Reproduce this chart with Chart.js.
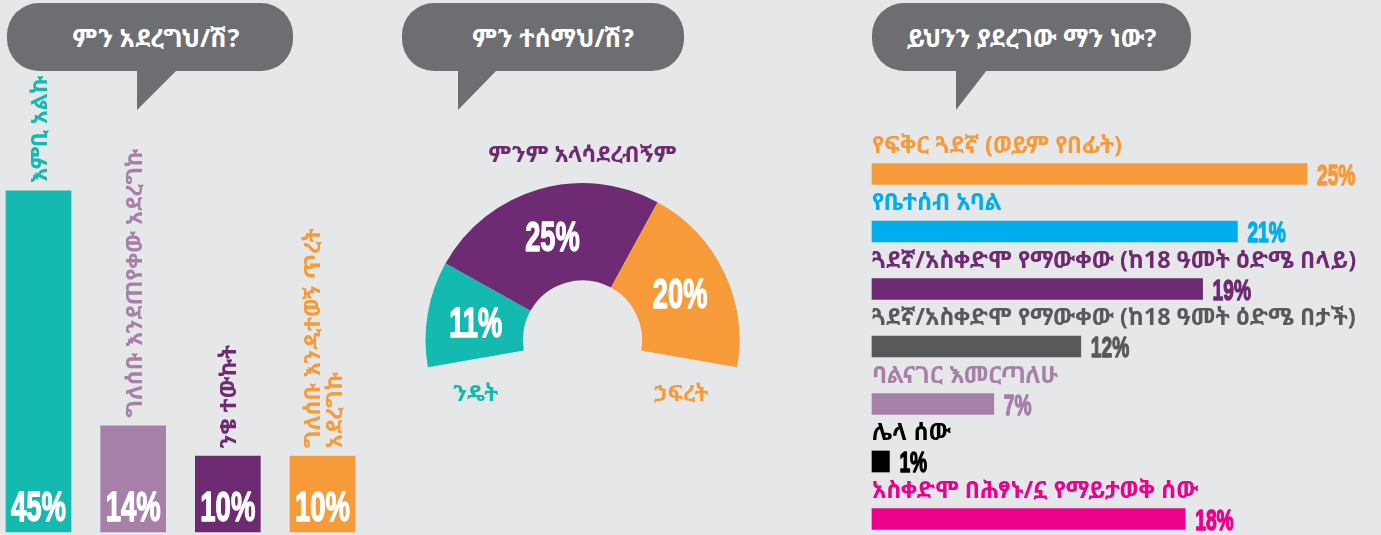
<!DOCTYPE html>
<html lang="am">
<head>
<meta charset="utf-8">
<title>ምን አደረግህ/ሽ?</title>
<script src="https://cdn.jsdelivr.net/npm/chart.js@4.4.1/dist/chart.umd.min.js"></script>
<style>
  html, body { margin: 0; padding: 0; background: #e6e7e8; width: 1381px; height: 535px; overflow: hidden; }
  .bubble {
    position: absolute; height: 68px; top: 3px; box-sizing: border-box;
    background: #6d6e71; border-radius: 32px; color: #fff;
    font: bold 25px "Noto Sans Ethiopic", "Abyssinica SIL", "Noto Sans", sans-serif;
    display: flex; align-items: center; justify-content: center;
  }
  .tail { position: absolute; top: 70px; height: 40px; background: #6d6e71; clip-path: polygon(0 0, 100% 0, 0 100%); }
  .box { position: absolute; }
</style>
</head>
<body>

<div class="bubble" style="left:7px; width:286px; padding-left:12px;">ምን አደረግህ/ሽ?</div>
<div class="tail" style="left:137px; width:40px;"></div>

<div class="bubble" style="left:402px; width:282px; padding-left:20px;">ምን ተሰማህ/ሽ?</div>
<div class="tail" style="left:458px; width:39px;"></div>

<div class="bubble" style="left:872px; width:319px;">ይህንን ያደረገው ማን ነው?</div>
<div class="tail" style="left:956px; width:31px;"></div>

<div class="box" style="left:0; top:0;"><canvas id="actionChart" width="380" height="535"></canvas></div>
<div class="box" style="left:390px; top:120px;"><canvas id="feelingChart" width="390" height="320"></canvas></div>
<div class="box" style="left:860px; top:130px;"><canvas id="whoChart" width="521" height="405"></canvas></div>

<script>
/* -------------------------------
   Data
--------------------------------*/
// What did you do?
const actionLabels = [["እምቢ አልኩ"], ["ግለሰቡ እንደጠየቀው አደረግኩ"], ["ንቄ ተውኩት"], ["ግለሰቡ እንዲተወኝ ጥረት", "አደረግኩ"]];
const actionValues = [45, 14, 10, 10];
const actionColors = ["#14b9b0", "#a680a8", "#6e2a72", "#f79b3a"];

// How did you feel?
const feelingLabels = ["ንዴት", "ምንም አላሳደረብኝም", "ኃፍረት"];
const feelingValues = [11, 25, 20];
const feelingColors = ["#14b9b0", "#6e2a72", "#f79b3a"];

// Who did it?
const whoLabels = [
  "የፍቅር ጓደኛ (ወይም የበፊት)",
  "የቤተሰብ አባል",
  "ጓደኛ/አስቀድሞ የማውቀው (ከ18 ዓመት ዕድሜ በላይ)",
  "ጓደኛ/አስቀድሞ የማውቀው (ከ18 ዓመት ዕድሜ በታች)",
  "ባልናገር እመርጣለሁ",
  "ሌላ ሰው",
  "አስቀድሞ በሕፃኑ/ኗ የማይታወቅ ሰው"
];
const whoValues = [25, 21, 19, 12, 7, 1, 18];
const whoColors = ["#f79b3a", "#00aeef", "#6e2a72", "#58595b", "#a680a8", "#000000", "#ec008c"];

const ETHIOPIC = '"Noto Sans Ethiopic", "Abyssinica SIL", "Noto Sans", sans-serif';
const NARROW = '"Liberation Sans", Arial, sans-serif';

/* -------------------------------
   Helpers
--------------------------------*/
// percentages are set in a tall heavy condensed face:
// squeeze the glyphs horizontally and stroke them a little to keep the weight
function condensedText(ctx, text, x, y, size, color, align, squeeze) {
  ctx.save();
  ctx.font = `bold ${size}px ${NARROW}`;
  ctx.fillStyle = color;
  ctx.strokeStyle = color;
  ctx.lineWidth = 1.4;
  ctx.lineJoin = "round";
  ctx.textAlign = align;
  ctx.textBaseline = "alphabetic";
  ctx.translate(x, y + size * 0.36);
  ctx.scale(squeeze, 1);
  ctx.fillText(text, 0, 0);
  ctx.strokeText(text, 0, 0);
  ctx.restore();
}

function baseOptions(padding) {
  return {
    responsive: false,
    animation: false,
    layout: { padding },
    plugins: { legend: { display: false }, tooltip: { enabled: false } }
  };
}

/* -------------------------------
   What did you do? (vertical bars)
--------------------------------*/
const actionLabelPlugin = {
  id: "actionLabels",
  afterDatasetsDraw(chart) {
    const ctx = chart.ctx;
    const bottom = chart.scales.y.getPixelForValue(0);
    chart.getDatasetMeta(0).data.forEach((bar, i) => {
      const lines = actionLabels[i];
      ctx.save();
      ctx.font = `bold 23px ${ETHIOPIC}`;
      ctx.fillStyle = actionColors[i];
      ctx.textAlign = "left";
      ctx.textBaseline = "middle";
      lines.forEach((line, j) => {
        const x = bar.x + 2 + (j - (lines.length - 1) / 2) * 22;
        ctx.save();
        ctx.translate(x, bar.y - 8);
        ctx.rotate(-Math.PI / 2);
        ctx.fillText(line, 0, 0);
        ctx.restore();
      });
      ctx.restore();
      condensedText(ctx, actionValues[i] + "%", bar.x, bottom - 26, 43, "#ffffff", "center", 0.64);
    });
  }
};

new Chart(document.getElementById("actionChart"), {
  type: "bar",
  data: {
    labels: actionLabels,
    datasets: [{ data: actionValues, backgroundColor: actionColors, barThickness: 65, clip: false }]
  },
  options: {
    ...baseOptions({ left: 38.5, right: 57.5, top: 77, bottom: 3 }),
    scales: {
      x: { display: false, offset: false },
      y: { display: false, min: 0, max: 60 }
    }
  },
  plugins: [actionLabelPlugin]
});

/* -------------------------------
   How did you feel? (half doughnut)
--------------------------------*/
const feelingLabelPlugin = {
  id: "feelingLabels",
  afterDatasetsDraw(chart) {
    const ctx = chart.ctx;
    const arcs = chart.getDatasetMeta(0).data;
    arcs.forEach((arc, i) => {
      const pos = arc.tooltipPosition();
      condensedText(ctx, feelingValues[i] + "%", pos.x, pos.y, 42, "#ffffff", "center", 0.65);

      const midR = (arc.innerRadius + arc.outerRadius) / 2;
      let lx, ly;
      if (i === 0) {
        lx = arc.x + Math.cos(arc.startAngle) * midR;
        ly = arc.y + Math.sin(arc.startAngle) * midR + 36;
      } else if (i === arcs.length - 1) {
        lx = arc.x + Math.cos(arc.endAngle) * midR - 8;
        ly = arc.y + Math.sin(arc.endAngle) * midR + 36;
      } else {
        lx = arc.x;
        ly = arc.y - arc.outerRadius - 28;
      }
      ctx.save();
      ctx.font = `bold 23px ${ETHIOPIC}`;
      ctx.fillStyle = feelingColors[i];
      ctx.textAlign = "center";
      ctx.textBaseline = "middle";
      ctx.fillText(feelingLabels[i], lx, ly);
      ctx.restore();
    });
  }
};

new Chart(document.getElementById("feelingChart"), {
  type: "doughnut",
  data: {
    labels: feelingLabels,
    datasets: [{ data: feelingValues, backgroundColor: feelingColors, borderWidth: 0 }]
  },
  options: {
    ...baseOptions({ left: 35.5, right: 40.5, top: 63, bottom: 72.7 }),
    rotation: -100,
    circumference: 200,
    cutout: "38%"
  },
  plugins: [feelingLabelPlugin]
});

/* -------------------------------
   Who did it? (horizontal bars)
--------------------------------*/
const whoLabelPlugin = {
  id: "whoLabels",
  afterDatasetsDraw(chart) {
    const ctx = chart.ctx;
    const left = chart.chartArea.left;
    chart.getDatasetMeta(0).data.forEach((bar, i) => {
      ctx.save();
      ctx.font = `bold 23.5px ${ETHIOPIC}`;
      ctx.fillStyle = whoColors[i];
      ctx.textAlign = "left";
      ctx.textBaseline = "middle";
      ctx.fillText(whoLabels[i], left, bar.y - 28);
      ctx.restore();
      condensedText(ctx, whoValues[i] + "%", bar.x + 10, bar.y, 30, whoColors[i], "left", 0.64);
    });
  }
};

new Chart(document.getElementById("whoChart"), {
  type: "bar",
  data: {
    labels: whoLabels,
    datasets: [{ data: whoValues, backgroundColor: whoColors, barThickness: 21, clip: false }]
  },
  options: {
    ...baseOptions({ left: 12, right: 21.8, top: 44, bottom: 16 }),
    indexAxis: "y",
    scales: {
      x: { display: false, min: 0, max: 28 },
      y: { display: false, offset: false }
    }
  },
  plugins: [whoLabelPlugin]
});
</script>
</body>
</html>
